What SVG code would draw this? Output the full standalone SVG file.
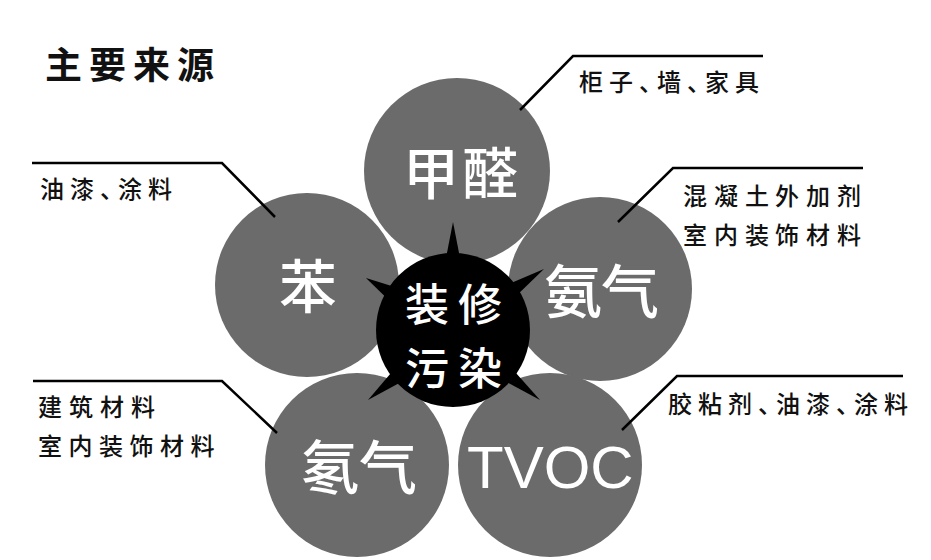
<svg xmlns="http://www.w3.org/2000/svg" width="931" height="560" viewBox="0 0 931 560">
<style>
.bg{fill:#ffffff}
.petal{fill:#6b6b6b}
.hub{fill:#000000}
.big{fill:#ffffff;font-family:"Noto Sans CJK SC","Noto Sans",sans-serif;font-weight:500}
.lat{fill:#ffffff;font-family:"Liberation Sans",Arial,sans-serif}
.lbl{fill:#111111;font-family:"Noto Sans CJK SC","Noto Sans",sans-serif;font-size:24px;font-weight:500}
.title{fill:#111111;font-family:"Noto Sans CJK SC","Noto Sans",sans-serif;font-size:37px;font-weight:700}
.lead{fill:none;stroke:#000000;stroke-width:2.5}
</style>
<rect class="bg" x="0" y="0" width="931" height="560"/>
<text class="title" x="45 89 133 177" y="79">主要来源</text>
<g id="formaldehyde">
<circle class="petal" cx="457" cy="171" r="93"/>
<text class="big" font-size="56" x="403 462" y="194">甲醛</text>
</g>
<g id="benzene">
<circle class="petal" cx="307" cy="285" r="92"/>
<text class="big" font-size="58" x="279" y="308">苯</text>
</g>
<g id="ammonia">
<circle class="petal" cx="600" cy="289" r="92"/>
<text class="big" font-size="58" x="544 601" y="313">氨气</text>
</g>
<g id="radon">
<circle class="petal" cx="357" cy="465" r="92"/>
<text class="big" font-size="58" x="301 359" y="489">氡气</text>
</g>
<g id="tvoc">
<circle class="petal" cx="550" cy="465" r="92"/>
<text class="lat" font-size="60" x="467" y="488">TVOC</text>
</g>
<g id="center">
<polygon class="hub" points="446,258 453,222 460,258"/>
<polygon class="hub" points="516.6,295.6 544,269 508.8,284"/>
<polygon class="hub" points="394.8,286.9 366,278 387.6,298.9"/>
<polygon class="hub" points="393.1,370.6 368,400 402.1,381.4"/>
<polygon class="hub" points="504.5,380.8 540,400 513.3,370"/>
<circle class="hub" cx="453" cy="330" r="77"/>
<text class="big" font-size="44" x="405 458" y="321">装修</text>
<text class="big" font-size="44" x="405 458" y="385">污染</text>
</g>
<g id="connectors">
<polyline class="lead" points="520,110 573,56 763,56"/>
<polyline class="lead" points="32,163 222,163 275,217"/>
<polyline class="lead" points="863,168 673,168 618,222"/>
<polyline class="lead" points="33,381 222,381 277,433"/>
<polyline class="lead" points="903,376 677,376 622,430"/>
</g>
<g id="labels">
<text class="lbl" x="579 609 639 657 687 705 735" y="91">柜子、墙、家具</text>
<text class="lbl" x="40 70 100 118 148" y="198">油漆、涂料</text>
<text class="lbl" x="683 714 745 775 806 837" y="205">混凝土外加剂</text>
<text class="lbl" x="683 714 745 775 806 837" y="244">室内装饰材料</text>
<text class="lbl" x="38 69 100 131" y="416">建筑材料</text>
<text class="lbl" x="38 68.5 99 129.5 160 190.5" y="455">室内装饰材料</text>
<text class="lbl" x="668 698 728 758 776 806 836 854 884" y="413">胶粘剂、油漆、涂料</text>
</g>
</svg>
